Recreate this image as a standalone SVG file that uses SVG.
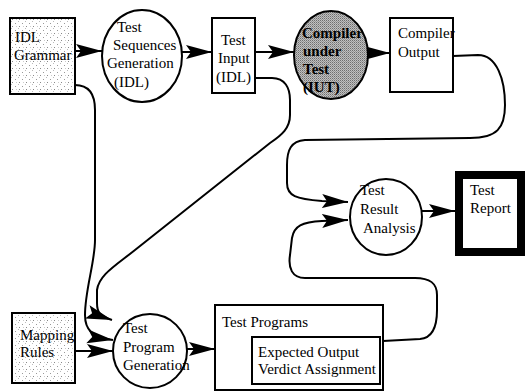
<svg xmlns="http://www.w3.org/2000/svg" width="526" height="392" viewBox="0 0 526 392" font-family="'Liberation Serif', 'Times New Roman', serif">
<style>
text{font-family:'Liberation Serif','Times New Roman',serif;font-size:15px;fill:#000}
.b{font-weight:bold}
.box{stroke:#000;stroke-width:2;fill:#fff}
.c{stroke:#000;stroke-width:2;fill:none}
</style>
<defs>
<pattern id="stip" width="7" height="7" patternUnits="userSpaceOnUse">
<rect width="7" height="7" fill="#fff"/>
<rect x="1" y="2" width="1" height="1" fill="#999"/>
<rect x="4" y="0" width="1" height="1" fill="#bbb"/>
<rect x="5" y="5" width="1" height="1" fill="#888"/>
<rect x="2" y="5" width="1" height="1" fill="#ccc"/>
</pattern>
<pattern id="dark" width="2" height="2" patternUnits="userSpaceOnUse">
<rect width="2" height="2" fill="#c0c0c0"/>
<rect x="0" y="0" width="1" height="1" fill="#6e6e6e"/>
<rect x="1" y="1" width="1" height="1" fill="#949494"/>
</pattern>
<marker id="ah" markerUnits="userSpaceOnUse" markerWidth="28" markerHeight="16" refX="26" refY="7" orient="auto">
<path d="M0,0 L26,7 L0,14 L5,7 z" fill="#000"/>
</marker>
</defs>

<g id="connectors">
<line class="c" x1="75" y1="51" x2="102" y2="51" marker-end="url(#ah)"/>
<line class="c" x1="182" y1="52" x2="212" y2="52" marker-end="url(#ah)"/>
<line class="c" x1="255" y1="52" x2="294" y2="52" marker-end="url(#ah)"/>
<line class="c" x1="368" y1="53" x2="390" y2="53" marker-end="url(#ah)"/>
<path class="c" d="M453,56 L478,55 C 497,55 505,80 505,105 C 505,128 497,138 470,138 L305,140 C 291,141 287,150 287,165 L287,183 C 287,196 296,199 322,201 L348,202" marker-end="url(#ah)"/>
<path class="c" d="M383,341 L420,339 C 433,338 437,325 437,310 L437,295 C 437,283 430,278 415,278 L305,278 C 292,278 288,268 290,255 L292,238 C 294,226 302,222 322,221 L348,220" marker-end="url(#ah)"/>
<line class="c" x1="422" y1="211" x2="455" y2="211" marker-end="url(#ah)"/>
<path class="c" d="M255,78 L272,78 C 285,78 290,88 290,100 L290,115 C 290,128 282,135 270,143 L135,250 C 115,266 99,275 97,290 L97,303 C 97,313 100,316 112,320" marker-end="url(#ah)"/>
<path class="c" d="M75,85 C 90,85 95,95 95,110 L95,240 C 95,262 85,290 85,315 C 85,330 92,337 113,340" marker-end="url(#ah)"/>
<line class="c" x1="75" y1="351" x2="113" y2="351" marker-end="url(#ah)"/>
<line class="c" x1="187" y1="349" x2="215" y2="349" marker-end="url(#ah)"/>
</g>

<g id="idl-grammar">
<rect x="10" y="18" width="65" height="76" fill="url(#stip)" stroke="#000" stroke-width="2"/>
<text x="15" y="42">IDL</text>
<text x="14" y="60">Grammar</text>
</g>

<g id="test-sequences-generation">
<ellipse cx="142" cy="56" rx="40" ry="46" class="box"/>
<text x="117" y="32">Test</text>
<text x="113" y="50">Sequences</text>
<text x="107" y="68">Generation</text>
<text x="114" y="87">(IDL)</text>
</g>

<g id="test-input">
<rect x="212" y="18" width="43" height="75" class="box"/>
<text x="221" y="45">Test</text>
<text x="218" y="63">Input</text>
<text x="216" y="82">(IDL)</text>
</g>

<g id="compiler-under-test">
<ellipse cx="331" cy="55" rx="37" ry="44" fill="url(#dark)" stroke="#000" stroke-width="2"/>
<text x="302" y="38" class="b">Compiler</text>
<text x="303" y="56" class="b">under</text>
<text x="303" y="74" class="b">Test</text>
<text x="303" y="92" class="b">(IUT)</text>
</g>

<g id="compiler-output">
<rect x="390" y="18" width="63" height="74" class="box"/>
<text x="398" y="38">Compiler</text>
<text x="398" y="57">Output</text>
</g>

<g id="test-result-analysis">
<ellipse cx="386" cy="217" rx="36" ry="38" class="box"/>
<text x="360" y="195">Test</text>
<text x="360" y="214">Result</text>
<text x="363" y="233">Analysis</text>
</g>

<g id="test-report">
<rect x="459" y="175" width="62" height="77" fill="#fff" stroke="#000" stroke-width="8"/>
<text x="470" y="195">Test</text>
<text x="470" y="213">Report</text>
</g>

<g id="mapping-rules">
<rect x="12" y="313" width="63" height="70" fill="url(#stip)" stroke="#000" stroke-width="2"/>
<text x="20" y="340">Mapping</text>
<text x="20" y="357">Rules</text>
</g>

<g id="test-program-generation">
<ellipse cx="150" cy="351" rx="37" ry="37" class="box"/>
<text x="123" y="333">Test</text>
<text x="123" y="352">Program</text>
<text x="123" y="370">Generation</text>
</g>

<g id="test-programs">
<rect x="215" y="305" width="168" height="85" class="box"/>
<text x="222" y="327">Test Programs</text>
<rect x="252" y="337" width="128" height="47" class="box"/>
<text x="258" y="357">Expected Output</text>
<text x="258" y="374">Verdict Assignment</text>
</g>
</svg>
